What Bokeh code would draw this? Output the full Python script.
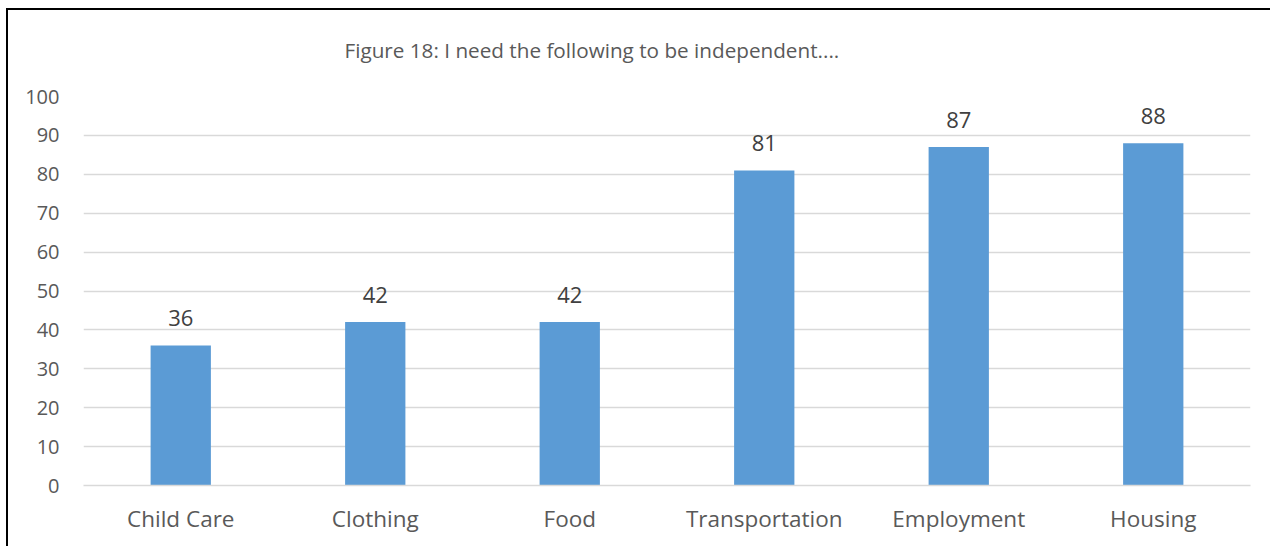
from bokeh.plotting import figure
from bokeh.models import ColumnDataSource, LabelSet, Title, InlineStyleSheet
from bokeh.core.properties import value
from bokeh.embed import file_html
from bokeh.resources import INLINE

categories = ["Child Care", "Clothing", "Food", "Transportation", "Employment", "Housing"]
values = [36, 42, 42, 81, 87, 88]
y_ticks = [0, 10, 20, 30, 40, 50, 60, 70, 80, 90, 100]
title_text = "Figure 18: I need the following to be independent...."

FONT = "Open Sans"
src = ColumnDataSource(dict(cat=categories, val=values, lab=[str(v) for v in values]))

p = figure(x_range=categories, y_range=(0, 100), width=1270, height=546,
           output_backend="svg", toolbar_location=None,
           min_border_left=83, min_border_right=20, min_border_top=96, min_border_bottom=61)
p.stylesheets = [InlineStyleSheet(css="""
:host::before { content: ''; position: absolute; left: 6px; top: 8px; width: 1264px; height: 2px;
                background: #000; z-index: 50; pointer-events: none; }
:host::after { content: ''; position: absolute; left: 6px; top: 8px; width: 2px; height: 538px;
               background: #000; z-index: 50; pointer-events: none; }
""")]

p.vbar(x="cat", top="val", width=0.31, source=src, color="#5B9BD5", line_color=None)

labels = LabelSet(x="cat", y="val", text="lab", source=src, text_align="center",
                  text_baseline="bottom", y_offset=19, text_color="#404040",
                  text_font=value(FONT), text_font_size=value("22px"))
p.add_layout(labels)

p.outline_line_color = None
p.xgrid.grid_line_color = None
p.ygrid.grid_line_color = "#D9D9D9"
p.ygrid.grid_line_width = 1.5
p.yaxis.ticker = y_ticks
p.yaxis.axis_line_color = None
p.yaxis.major_tick_line_color = None
p.yaxis.minor_tick_line_color = None
p.yaxis.major_label_standoff = 18
p.yaxis.major_label_text_font = FONT
p.yaxis.major_label_text_font_size = "20px"
p.yaxis.major_label_text_color = "#595959"

p.xaxis.axis_line_color = "#D9D9D9"
p.xaxis.axis_line_width = 1.5
p.xaxis.major_tick_line_color = None
p.xaxis.minor_tick_line_color = None
p.xaxis.major_label_standoff = 11
p.xaxis.major_label_text_font = FONT
p.xaxis.major_label_text_font_size = "22.5px"
p.xaxis.major_label_text_color = "#595959"
p.x_range.range_padding = 0

t = Title(text=title_text, align="left", offset=261, text_font=FONT,
          text_font_size="20.7px", text_font_style="normal", text_color="#595959",
          standoff=66)
p.add_layout(t, "above")

open("out.html", "w").write(file_html(p, INLINE))
